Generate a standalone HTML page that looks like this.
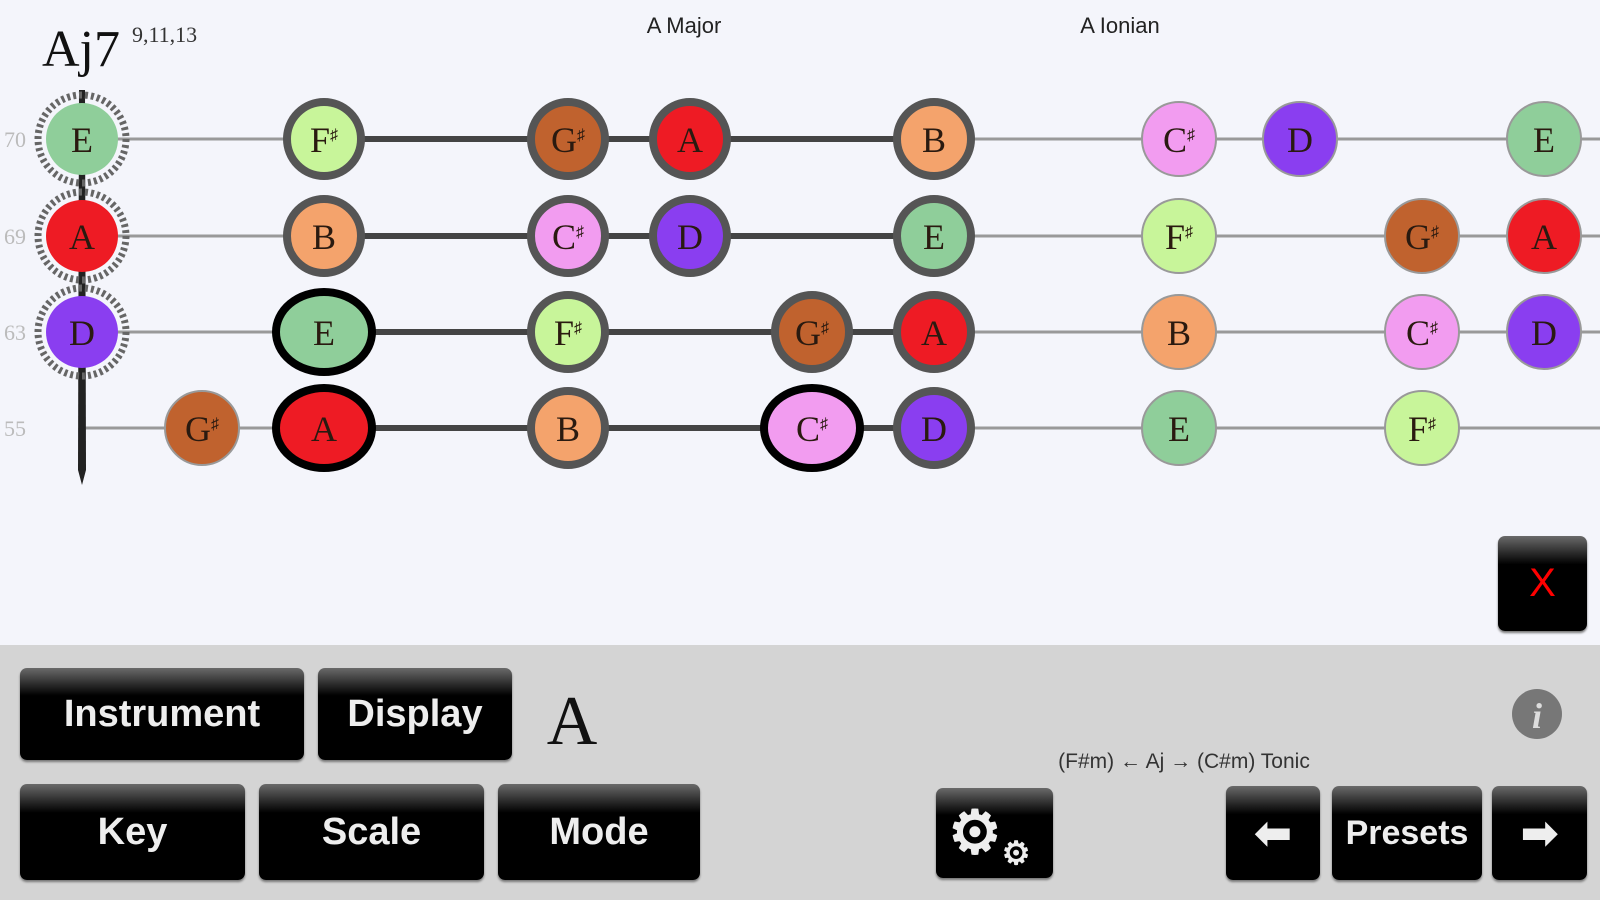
<!DOCTYPE html>
<html><head><meta charset="utf-8"><style>
body{margin:0;width:1600px;height:900px;overflow:hidden;background:#f4f5fb;font-family:"Liberation Sans",sans-serif}
.btn{position:absolute;background:linear-gradient(#6a6a6a 0%,#2a2a2a 18%,#000 30%,#000 100%);border-radius:7px;color:#eee;font-weight:bold;font-size:38px;display:flex;align-items:center;justify-content:center;box-shadow:0 2px 2px #777}
.s{font-size:16px}
</style></head><body>
<svg width="1600" height="900" style="position:absolute;left:0;top:0" font-family="Liberation Serif, serif">
<rect x="0" y="645" width="1600" height="255" fill="#d4d4d4"/>
<text x="42" y="66" font-size="52" fill="#111">Aj7</text>
<text x="132" y="42" font-size="22" fill="#333">9,11,13</text>
<text x="684" y="33" font-size="22" fill="#222" text-anchor="middle" font-family="Liberation Sans, sans-serif">A Major</text>
<text x="1120" y="33" font-size="22" fill="#222" text-anchor="middle" font-family="Liberation Sans, sans-serif">A Ionian</text>
<g font-size="22" fill="#bbb"><text x="4" y="147">70</text><text x="4" y="244">69</text><text x="4" y="340">63</text><text x="4" y="436">55</text></g>
<g stroke="#999" stroke-width="3">
<line x1="82" y1="139" x2="1600" y2="139"/><line x1="82" y1="236" x2="1600" y2="236"/>
<line x1="82" y1="332" x2="1600" y2="332"/><line x1="82" y1="428" x2="1600" y2="428"/></g>
<g stroke="#444" stroke-width="6">
<line x1="324" y1="139" x2="960" y2="139"/><line x1="324" y1="236" x2="960" y2="236"/>
<line x1="300" y1="332" x2="960" y2="332"/><line x1="300" y1="428" x2="960" y2="428"/></g>
<path d="M79 90 L85 90 L86 470 L82 485 L78 470Z" fill="#222"/>
<defs>
<g id="dot"><circle r="44" fill="none" stroke="#666" stroke-width="7" stroke-dasharray="3 3"/></g>
</defs>
<g font-size="36" text-anchor="middle" fill="#2a1a10">
<use href="#dot" x="82" y="139"/><use href="#dot" x="82" y="236"/><use href="#dot" x="82" y="332"/>
<g stroke="#555" stroke-width="8">
<circle cx="82" cy="139" r="36" fill="#8fce9a" stroke="none"/>
<circle cx="324" cy="139" r="37" fill="#c8f59a"/>
<circle cx="568" cy="139" r="37" fill="#c0622e"/>
<circle cx="690" cy="139" r="37" fill="#ee1b24"/>
<circle cx="934" cy="139" r="37" fill="#f4a36c"/>
<circle cx="82" cy="236" r="36" fill="#ee1b24" stroke="none"/>
<circle cx="324" cy="236" r="37" fill="#f4a36c"/>
<circle cx="568" cy="236" r="37" fill="#f29cf0"/>
<circle cx="690" cy="236" r="37" fill="#8a3ef0"/>
<circle cx="934" cy="236" r="37" fill="#8fce9a"/>
<circle cx="82" cy="332" r="36" fill="#8a3ef0" stroke="none"/>
<ellipse cx="324" cy="332" rx="48" ry="40" fill="#8fce9a" stroke="#000"/>
<circle cx="568" cy="332" r="37" fill="#c8f59a"/>
<circle cx="812" cy="332" r="37" fill="#c0622e"/>
<circle cx="934" cy="332" r="37" fill="#ee1b24"/>
<ellipse cx="324" cy="428" rx="48" ry="40" fill="#ee1b24" stroke="#000"/>
<circle cx="568" cy="428" r="37" fill="#f4a36c"/>
<ellipse cx="812" cy="428" rx="48" ry="40" fill="#f29cf0" stroke="#000"/>
<circle cx="934" cy="428" r="37" fill="#8a3ef0"/>
</g>
<g stroke="#999" stroke-width="2">
<circle cx="1179" cy="139" r="37" fill="#f29cf0"/><circle cx="1300" cy="139" r="37" fill="#8a3ef0"/><circle cx="1544" cy="139" r="37" fill="#8fce9a"/>
<circle cx="1179" cy="236" r="37" fill="#c8f59a"/><circle cx="1422" cy="236" r="37" fill="#c0622e"/><circle cx="1544" cy="236" r="37" fill="#ee1b24"/>
<circle cx="1179" cy="332" r="37" fill="#f4a36c"/><circle cx="1422" cy="332" r="37" fill="#f29cf0"/><circle cx="1544" cy="332" r="37" fill="#8a3ef0"/>
<circle cx="202" cy="428" r="37" fill="#c0622e"/><circle cx="1179" cy="428" r="37" fill="#8fce9a"/><circle cx="1422" cy="428" r="37" fill="#c8f59a"/>
</g>
<text x="82" y="152">E</text><text x="324" y="152">F<tspan class="s" dy="-12">♯</tspan></text><text x="568" y="152">G<tspan class="s" dy="-12">♯</tspan></text><text x="690" y="152">A</text><text x="934" y="152">B</text><text x="1179" y="152">C<tspan class="s" dy="-12">♯</tspan></text><text x="1300" y="152">D</text><text x="1544" y="152">E</text>
<text x="82" y="249">A</text><text x="324" y="249">B</text><text x="568" y="249">C<tspan class="s" dy="-12">♯</tspan></text><text x="690" y="249">D</text><text x="934" y="249">E</text><text x="1179" y="249">F<tspan class="s" dy="-12">♯</tspan></text><text x="1422" y="249">G<tspan class="s" dy="-12">♯</tspan></text><text x="1544" y="249">A</text>
<text x="82" y="345">D</text><text x="324" y="345">E</text><text x="568" y="345">F<tspan class="s" dy="-12">♯</tspan></text><text x="812" y="345">G<tspan class="s" dy="-12">♯</tspan></text><text x="934" y="345">A</text><text x="1179" y="345">B</text><text x="1422" y="345">C<tspan class="s" dy="-12">♯</tspan></text><text x="1544" y="345">D</text>
<text x="202" y="441">G<tspan class="s" dy="-12">♯</tspan></text><text x="324" y="441">A</text><text x="568" y="441">B</text><text x="812" y="441">C<tspan class="s" dy="-12">♯</tspan></text><text x="934" y="441">D</text><text x="1179" y="441">E</text><text x="1422" y="441">F<tspan class="s" dy="-12">♯</tspan></text>
</g>
<text x="572" y="744" font-size="70" fill="#111" text-anchor="middle">A</text>
<circle cx="1537" cy="714" r="25" fill="#777"/>
<text x="1537" y="728" font-size="36" fill="#ddd" text-anchor="middle" font-style="italic" font-weight="bold">i</text>
<text x="1184" y="768" font-size="21" fill="#333" text-anchor="middle" font-family="Liberation Sans, sans-serif">(F#m) ←  Aj →  (C#m) Tonic</text>
</svg>
<div class="btn" style="left:20px;top:668px;width:284px;height:92px">Instrument</div>
<div class="btn" style="left:318px;top:668px;width:194px;height:92px">Display</div>
<div class="btn" style="left:20px;top:784px;width:225px;height:96px">Key</div>
<div class="btn" style="left:259px;top:784px;width:225px;height:96px">Scale</div>
<div class="btn" style="left:498px;top:784px;width:202px;height:96px">Mode</div>
<div class="btn" style="left:936px;top:788px;width:117px;height:90px;font-size:60px;justify-content:flex-start;padding-left:12px;box-sizing:border-box">⚙<span style="font-size:32px;margin-top:40px">⚙</span></div>
<div class="btn" style="left:1226px;top:786px;width:94px;height:94px;font-size:44px">⬅</div>
<div class="btn" style="left:1332px;top:786px;width:150px;height:94px;font-size:34px">Presets</div>
<div class="btn" style="left:1492px;top:786px;width:95px;height:94px;font-size:44px">➡</div>
<div class="btn" style="left:1498px;top:536px;width:89px;height:95px;color:#f00;font-size:40px;font-weight:normal">X</div>
</body></html>
